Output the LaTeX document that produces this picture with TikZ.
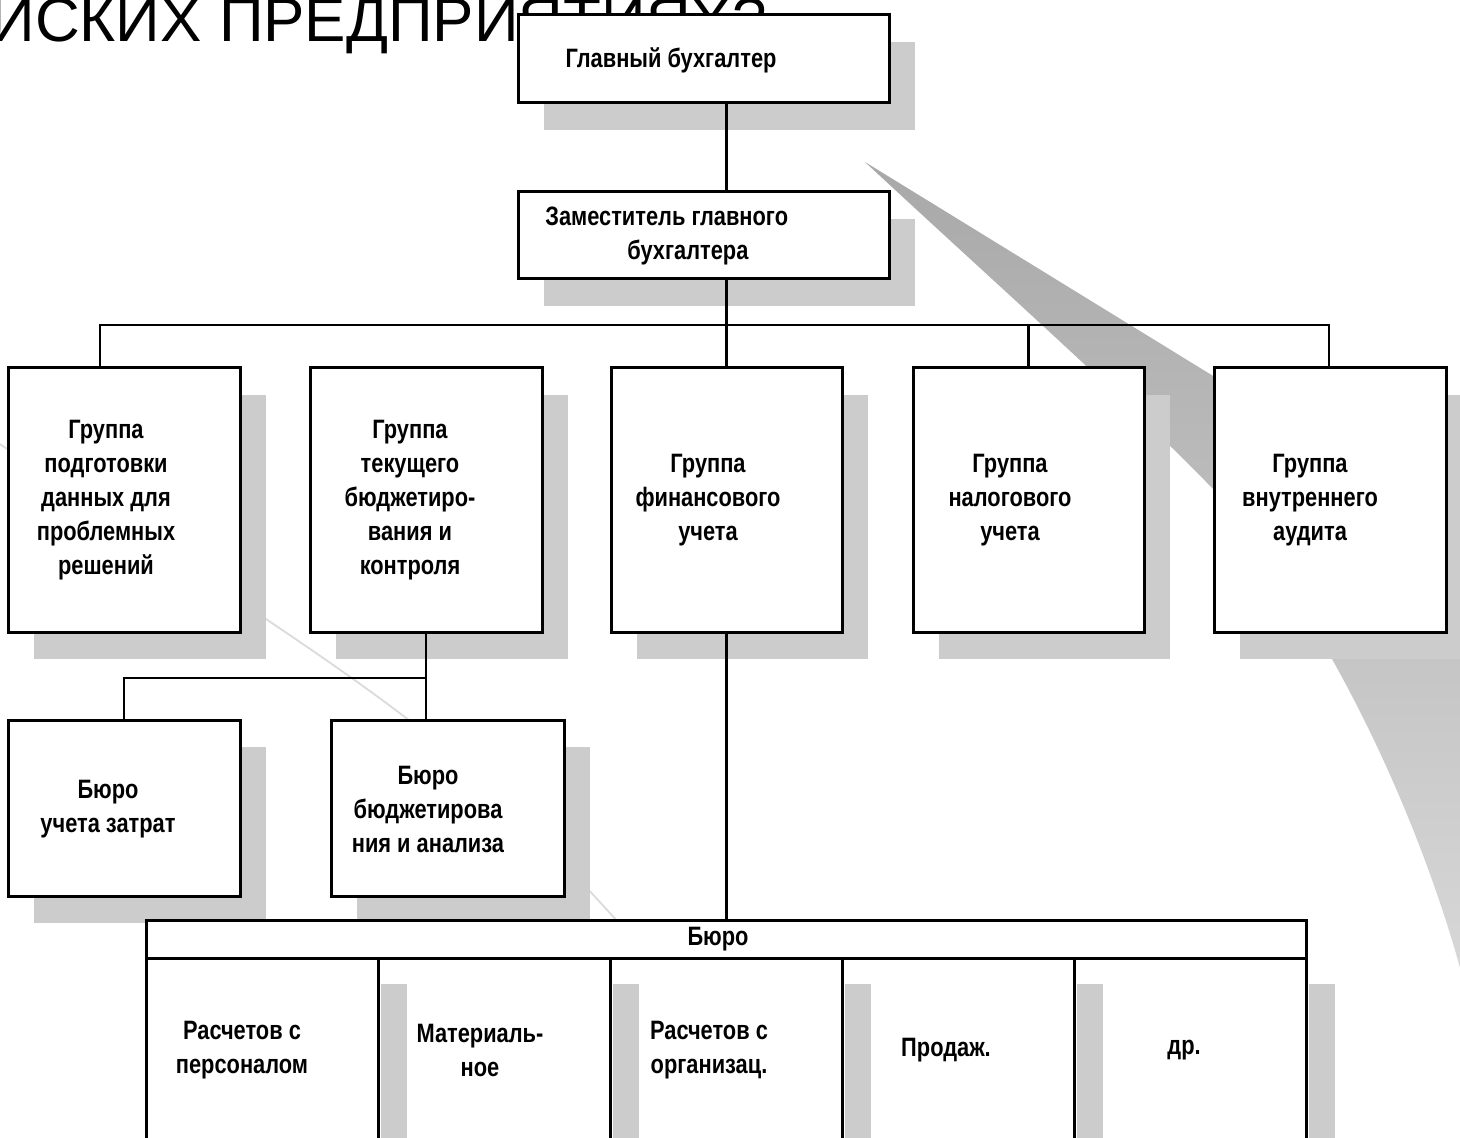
\documentclass[tikz,border=0pt]{standalone}
\usepackage{fontspec}
\setmainfont{Liberation Sans}
\newfontfamily\boxfont[FakeStretch=0.82]{Liberation Sans}
\usetikzlibrary{shadows}
\definecolor{shadowgray}{gray}{0.8}
\definecolor{faintgray}{gray}{0.86}
\tikzset{
  box/.style={draw=black, line width=1.5pt, fill=white, inner sep=0pt,
    drop shadow={shadow xshift=13pt, shadow yshift=-13.5pt, fill=shadowgray, opacity=1}},
  cell/.style={draw=black, line width=1.5pt, fill=white, inner sep=0pt},
  sz/.style 2 args={minimum width=#1*0.5pt, minimum height=#2*0.5pt},
  lbl/.style={font=\boxfont\bfseries\fontsize{13.3}{17}\selectfont, align=center, inner sep=0pt},
  conn/.style={draw=black, line width=1.2pt}}
\begin{document}
\begin{tikzpicture}[x=0.5pt,y=-0.5pt]
\clip (0,0) rectangle (1460,1138);
\fill[white] (0,0) rectangle (1460,1138);

% faint decorative arc
\draw[faintgray, line width=0.9pt] (-5,441) .. controls (449,737) .. (630,935);

% grey swoosh
\path[top color=black!34, bottom color=black!15]
  (865,162) -- (1480,540) -- (1480,995) -- (1462,975)
  .. controls (1420,820) and (1330,620) .. (1214,490)
  .. controls (1125,398) and (995,283) .. (865,162) -- cycle;

% title fragment
\node[anchor=base east, font=\fontsize{31}{36}\selectfont, inner sep=0pt] (title) at (767,42) {ИСКИХ ПРЕДПРИЯТИЯХ?};

% boxes
\node[box, sz={371}{88}] (b1) at (703.5,59) {};
\node[box, sz={371}{87}] (b2) at (703.5,235.5) {};
\node[box, sz={232}{264}] (g1) at (124,500) {};
\node[box, sz={232}{264}] (g2) at (426,500) {};
\node[box, sz={231}{264}] (g3) at (726.5,500) {};
\node[box, sz={231}{264}] (g4) at (1028.5,500) {};
\node[box, sz={232}{264}] (g5) at (1330,500) {};
\node[box, sz={232}{176}] (u1) at (124,808) {};
\node[box, sz={233}{176}] (u2) at (447.5,808) {};
\node[cell, sz={1160}{38}] (hdr) at (726,939) {};
\node[cell, sz={232}{212}] (c1) at (262,1064) {};
\node[cell, sz={232}{212}] (c2) at (494,1064) {};
\node[cell, sz={232}{212}] (c3) at (726,1064) {};
\node[cell, sz={232}{212}] (c4) at (958,1064) {};
\node[cell, sz={232}{212}] (c5) at (1190,1064) {};
\foreach \c in {c1,c2,c3,c4,c5}
  \fill[shadowgray] ([shift={(1.8,27)}]\c.north east) rectangle ([shift={(27,0)}]\c.south east);

% connectors
\coordinate (busL) at (100,325);
\coordinate (busR) at (1329,325);
\coordinate (split) at (426,678);
\draw[conn] (b1.south -| g3.north) -- (b2.north -| g3.north);
\draw[conn] (b2.south -| g3.north) -- (g3.north);
\draw[conn] (g1.north -| busL) -- (busL) -- (busR) -- (g5.north -| busR);
\draw[conn] (g4.north) -- (g4.north |- busL);
\draw[conn] (g3.south) -- (hdr.north -| g3.south);
\draw[conn] (g2.south) -- (u2.north -| g2.south);
\draw[conn] (split) -| (u1.north);

% labels
\node[lbl] (t1) at (671,60) {Главный бухгалтер};
\node[lbl, anchor=west, align=left] (t2) at (545,235.5) {Заместитель главного\\\hspace*{41pt}бухгалтера};
\node[lbl] (tg1) at (106,500) {Группа\\подготовки\\данных для\\проблемных\\решений};
\node[lbl] (tg2) at (410,500) {Группа\\текущего\\бюджетиро-\\вания и\\контроля};
\node[lbl] (tg3) at (708,500) {Группа\\финансового\\учета};
\node[lbl] (tg4) at (1010,500) {Группа\\налогового\\учета};
\node[lbl] (tg5) at (1310,500) {Группа\\внутреннего\\аудита};
\node[lbl] (tu1) at (108,809) {Бюро\\учета затрат};
\node[lbl] (tu2) at (428,809) {Бюро\\бюджетирова\\ния и анализа};
\node[lbl] (thdr) at (718,939) {Бюро};
\node[lbl] (tc1) at (242,1050) {Расчетов с\\персоналом};
\node[lbl] (tc2) at (480,1050) {Материаль-\\ное};
\node[lbl] (tc3) at (709,1050) {Расчетов с\\организац.};
\node[lbl] (tc4) at (946,1050) {Продаж.};
\node[lbl] (tc5) at (1184,1050) {др.};
\end{tikzpicture}
\end{document}
